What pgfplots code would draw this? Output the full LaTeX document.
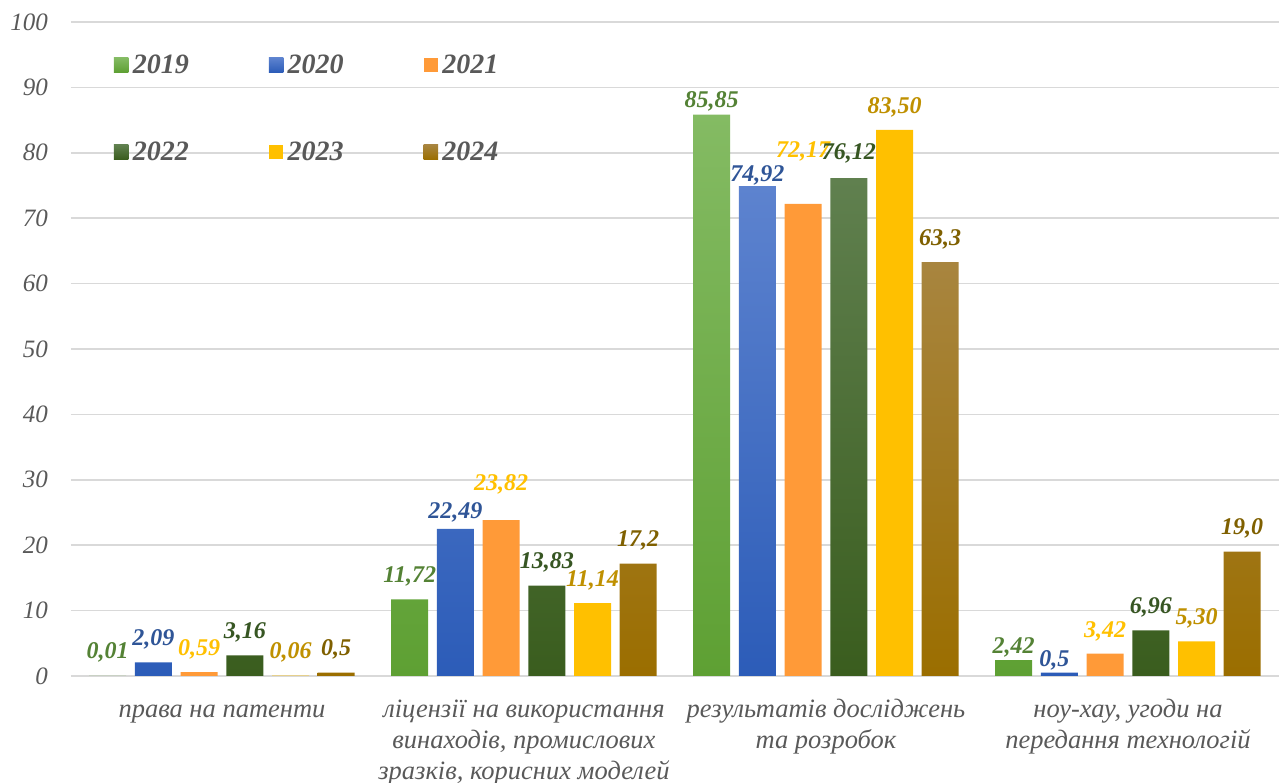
\documentclass[border=0pt]{standalone}
\usepackage{fontspec}
\setmainfont{Liberation Serif}
\usepackage{pgfplots}
\pgfplotsset{compat=1.18}
\usepackage{pgfplotstable}

\definecolor{gridgray}{HTML}{D9D9D9}
\definecolor{labgray}{HTML}{595959}
\definecolor{cAtop}{HTML}{84BB63}\definecolor{cAbot}{HTML}{5EA033}
\definecolor{cBtop}{HTML}{5D83CF}\definecolor{cBbot}{HTML}{2C5CB8}
\definecolor{cC}{HTML}{FF9A38}
\definecolor{cDtop}{HTML}{60804F}\definecolor{cDbot}{HTML}{3A5D1E}
\definecolor{cE}{HTML}{FFC000}
\definecolor{cFtop}{HTML}{A8853F}\definecolor{cFbot}{HTML}{9B6E00}
\definecolor{lA}{HTML}{548235}
\definecolor{lB}{HTML}{2F5597}
\definecolor{lC}{HTML}{FFC000}
\definecolor{lD}{HTML}{375623}
\definecolor{lE}{HTML}{BF9000}
\definecolor{lF}{HTML}{7F6000}

\pgfplotstableread{
x y lab dx dy
0 0.01 0,01 0 0
1 11.72 11,72 0 0
2 85.85 85,85 0 -10
3 2.42 2,42 0 -10.5
}\tA
\pgfplotstableread{
x y lab dx dy
0 2.09 2,09 0 0
1 22.49 22,49 0 -7
2 74.92 74,92 0 -12.5
3 0.5 0,5 -5 -11
}\tB
\pgfplotstableread{
x y lab dx dy
0 0.59 0,59 0 0
1 23.82 23,82 0 12.5
2 72.17 72,17 0 29
3 3.42 3,42 0 -1
}\tC
\pgfplotstableread{
x y lab dx dy
0 3.16 3,16 0 0
1 13.83 13,83 0 0
2 76.12 76,12 0 2
3 6.96 6,96 0 0
}\tD
\pgfplotstableread{
x y lab dx dy
0 0.06 0,06 0 0
1 11.14 11,14 0 0
2 83.50 83,50 0 -1
3 5.30 5,30 0 0
}\tE
\pgfplotstableread{
x y lab dx dy
0 0.5 0,5 0 0
1 17.2 17,2 0 0
2 63.3 63,3 0 0
3 19.0 19,0 0 0
}\tF

\begin{document}
\begin{tikzpicture}
\useasboundingbox (-71pt,-107pt) rectangle (1215pt,676pt);
\begin{axis}[
  at={(0pt,0pt)}, anchor=south west,
  scale only axis, width=1208pt, height=654pt,
  xmin=-0.5, xmax=3.5, ymin=0, ymax=100,
  ybar=8.7pt, bar width=37pt,
  clip=false,
  axis line style={draw=none},
  ymajorgrids, grid style={line width=1.5pt, color=gridgray},
  ytick={0,10,...,100},
  xtick={0,1,2,3},
  xticklabels={{\strut права на патенти},
               {\strut ліцензії на використання\\винаходів, промислових\\зразків, корисних моделей},
               {\strut результатів досліджень\\та розробок},
               {\strut ноу-хау, угоди на\\передання технологій}},
  xticklabel style={align=center, anchor=north, inner sep=0pt, yshift=-20pt,
                    font=\fontsize{26.5}{31}\selectfont\itshape, text=labgray},
  yticklabel style={anchor=east, inner sep=0pt, xshift=-23pt,
                    font=\fontsize{25}{30}\selectfont\itshape, text=labgray},
  /pgf/number format/assume math mode=true,
  major tick length=0pt,
  xtick style={draw=none}, ytick style={draw=none},
  nodes near coords,
  point meta=explicit symbolic,
  visualization depends on={\thisrow{dy} \as \labdy},
  visualization depends on={\thisrow{dx} \as \labdx},
  every node near coord/.append style={anchor=base, inner sep=0pt,
     font=\fontsize{24}{28}\selectfont\bfseries\itshape,
     yshift={(17+(\labdy))*1pt}, xshift={(\labdx)*1pt}},
  legend columns=3,
  legend image code/.code={\fill[#1] (0pt,-7.25pt) rectangle (14.5pt,7.25pt);},
  legend style={at={(rel axis cs:0,1)}, anchor=north west, xshift=43pt, yshift=-33pt,
     draw=none, fill=none, inner sep=0pt, outer sep=0pt,
     font=\fontsize{28}{34}\selectfont\bfseries\itshape, text=labgray,
     row sep=67pt, nodes={inner sep=0pt},
     /tikz/every odd column/.append style={column sep=4.3pt},
     /tikz/every even column/.append style={column sep=80pt}},
  legend cell align=left,
]
\addplot[draw=none, top color=cAtop, bottom color=cAbot, every node near coord/.append style={text=lA}] table[x=x,y=y,meta=lab]{\tA};
\addplot[draw=none, top color=cBtop, bottom color=cBbot, every node near coord/.append style={text=lB}] table[x=x,y=y,meta=lab]{\tB};
\addplot[draw=none, fill=cC, every node near coord/.append style={text=lC}] table[x=x,y=y,meta=lab]{\tC};
\addplot[draw=none, top color=cDtop, bottom color=cDbot, every node near coord/.append style={text=lD}] table[x=x,y=y,meta=lab]{\tD};
\addplot[draw=none, fill=cE, every node near coord/.append style={text=lE}] table[x=x,y=y,meta=lab]{\tE};
\addplot[draw=none, top color=cFtop, bottom color=cFbot, every node near coord/.append style={text=lF}] table[x=x,y=y,meta=lab]{\tF};
\legend{2019,2020,2021,2022,2023,2024}
\end{axis}
\end{tikzpicture}
\end{document}
